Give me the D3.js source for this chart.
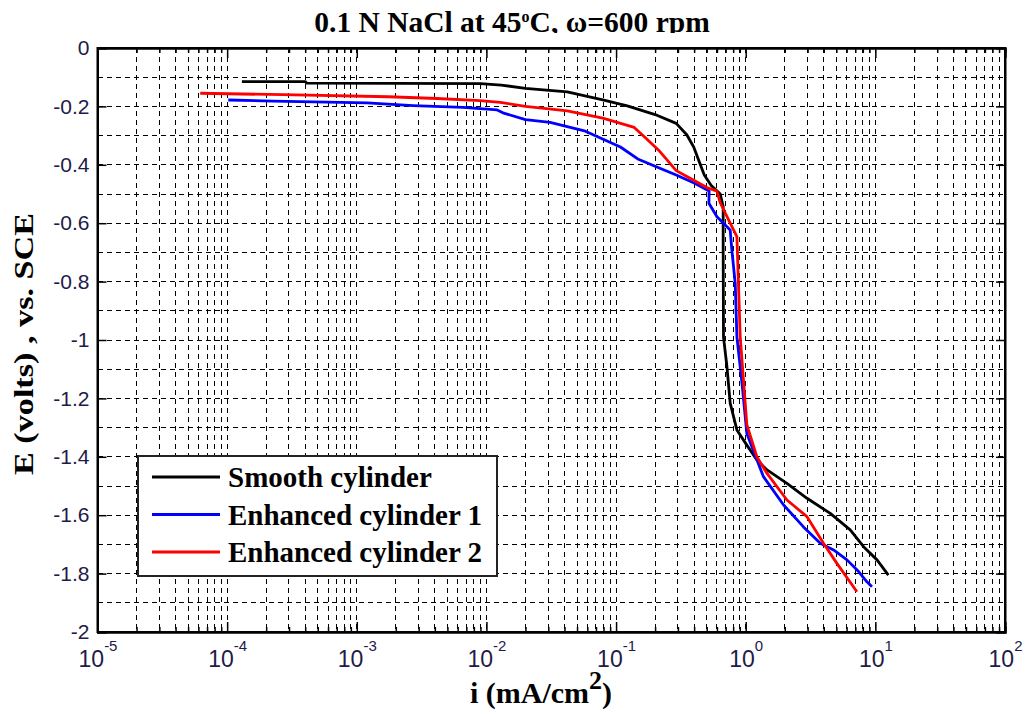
<!DOCTYPE html>
<meta charset="utf-8">
<style>
body { margin: 0; background: #fff; }
svg { display: block; }
.grid line { stroke: #000; stroke-width: 1; stroke-dasharray: 5,4; shape-rendering: crispEdges; }
.axis path, .axis line { stroke: #000; }
.axis path { stroke-width: 2; }
.axis line { stroke-width: 1.5; }
.ticklab { font-family: 'Liberation Sans', Arial, sans-serif; fill: #221a48; }
.serif { font-family: 'Liberation Serif', 'Times New Roman', serif; font-weight: bold; fill: #000; }
.curve { fill: none; stroke-width: 2.8; stroke-linejoin: round; }
</style>
<svg width="1026" height="714"></svg>
<script src="https://d3js.org/d3.v7.min.js"></script>
<script>
// ---- data ----
var smoothI = [1.3e-4, 4.0e-4, 4.1e-4, 0.009, 0.013, 0.020, 0.042, 0.079, 0.122, 0.200, 0.291, 0.351, 0.397, 0.436,
  0.479, 0.542, 0.636, 0.670, 0.670, 0.674, 0.716, 0.759, 0.855, 1.02, 1.22, 1.46, 2.08, 2.97, 4.49, 6.40, 8.11, 10.3, 12.6];
var smoothE = [-0.115, -0.115, -0.120, -0.122, -0.127, -0.138, -0.150, -0.178, -0.198, -0.228, -0.258, -0.297, -0.339, -0.387,
  -0.435, -0.471, -0.500, -0.543, -0.690, -0.990, -1.090, -1.216, -1.308, -1.360, -1.411, -1.445, -1.491, -1.542, -1.594, -1.650, -1.708, -1.753, -1.805];

var enh1I = [1.02e-4, 2.26e-4, 1.2e-3, 2.72e-3, 6.6e-3, 0.0121, 0.0134, 0.020, 0.031, 0.058, 0.108, 0.147, 0.200, 0.291,
  0.404, 0.522, 0.520, 0.600, 0.759, 0.782, 0.830, 0.855, 0.936, 1.02, 1.18, 1.37, 1.96, 2.79, 3.76, 4.76, 6.04, 7.42, 8.61, 9.41];
var enh1E = [-0.178, -0.182, -0.188, -0.197, -0.203, -0.212, -0.222, -0.245, -0.255, -0.285, -0.339, -0.380, -0.405, -0.435,
  -0.463, -0.490, -0.532, -0.578, -0.623, -0.692, -0.806, -0.989, -1.148, -1.320, -1.394, -1.468, -1.565, -1.640, -1.696, -1.719, -1.753, -1.793, -1.828, -1.845];

var enh2I = [6.2e-5, 2.7e-4, 1.75e-3, 4.17e-3, 8.9e-3, 0.0128, 0.020, 0.042, 0.079, 0.138, 0.166, 0.213, 0.291, 0.352,
  0.502, 0.600, 0.636, 0.759, 0.855, 0.879, 0.907, 0.962, 1.02, 1.22, 1.46, 2.08, 2.97, 3.98, 5.05, 7.21];
var enh2E = [-0.155, -0.160, -0.167, -0.173, -0.180, -0.186, -0.200, -0.215, -0.240, -0.272, -0.305, -0.350, -0.420, -0.440,
  -0.478, -0.490, -0.530, -0.600, -0.646, -0.806, -0.989, -1.140, -1.290, -1.400, -1.457, -1.548, -1.605, -1.696, -1.765, -1.862];

var seriesNames = ["Smooth cylinder", "Enhanced cylinder 1", "Enhanced cylinder 2"];
var seriesColors = ["#000000", "#0000ff", "#ff0000"];
var decades = [-5, -4, -3, -2, -1, 0, 1, 2];
var yTicks = [0, -0.2, -0.4, -0.6, -0.8, -1, -1.2, -1.4, -1.6, -1.8, -2];

var svg = d3.select("svg");
var pLeft = 97.5, pRight = 1005, pTop = 48, pBottom = 632;

var x = d3.scaleLog().domain([1e-5, 1e2]).range([pLeft, pRight]);
var y = d3.scaleLinear().domain([-2, 0]).range([pBottom, pTop]);

// minor positions for the log axis
var minorX = [];
decades.slice(0, -1).forEach(function(e) {
  for (var m = 2; m <= 9; m++) minorX.push(m * Math.pow(10, e));
});
var gridX = decades.map(function(e) { return Math.pow(10, e); }).slice(1, -1).concat(minorX);
var gridY = d3.range(1, 20).map(function(k) { return -k / 10; });

// grid
var grid = svg.append("g").attr("class", "grid");
grid.selectAll(".gx").data(gridX).enter().append("line")
  .attr("x1", function(d) { return x(d); }).attr("x2", function(d) { return x(d); })
  .attr("y1", pTop).attr("y2", pBottom);
grid.selectAll(".gy").data(gridY).enter().append("line")
  .attr("x1", pLeft).attr("x2", pRight)
  .attr("y1", function(d) { return y(d); }).attr("y2", function(d) { return y(d); });

// curves
var line = d3.line().x(function(d) { return x(d[0]); }).y(function(d) { return y(d[1]); });
var series = [d3.zip(smoothI, smoothE), d3.zip(enh1I, enh1E), d3.zip(enh2I, enh2E)];
svg.append("g").selectAll("path").data(series).enter().append("path")
  .attr("class", "curve")
  .attr("stroke", function(d, i) { return seriesColors[i]; })
  .attr("d", line);

// axes (ticks inward)
var decadeVals = decades.map(function(e) { return Math.pow(10, e); });
svg.append("g").attr("class", "axis").attr("transform", "translate(0," + pBottom + ")")
  .call(d3.axisBottom(x).tickValues(minorX).tickSize(-5).tickFormat(""));
svg.append("g").attr("class", "axis").attr("transform", "translate(0," + pTop + ")")
  .call(d3.axisTop(x).tickValues(minorX).tickSize(-5).tickFormat(""));
svg.append("g").attr("class", "axis").attr("transform", "translate(0," + pTop + ")")
  .call(d3.axisTop(x).tickValues(decadeVals).tickSize(-10).tickFormat(""));
var xAx = svg.append("g").attr("class", "axis").attr("transform", "translate(0," + pBottom + ")")
  .call(d3.axisBottom(x).tickValues(decadeVals).tickSize(-10).tickFormat(""));
svg.append("g").attr("class", "axis").attr("transform", "translate(" + pRight + ",0)")
  .call(d3.axisRight(y).tickValues(yTicks).tickSize(-9).tickFormat(""));
var yAx = svg.append("g").attr("class", "axis").attr("transform", "translate(" + pLeft + ",0)")
  .call(d3.axisLeft(y).tickValues(yTicks).tickSize(-9).tickPadding(8)
    .tickFormat(function(d) { return String(+d.toFixed(1)); }));
yAx.selectAll("text").attr("class", "ticklab").style("font-size", "21px").attr("font-family", null);

// x tick labels as 10^n
xAx.selectAll(".tick").each(function(d) {
  var t = d3.select(this).append("text").attr("class", "ticklab")
    .attr("text-anchor", "middle").attr("y", 35).style("font-size", "23px");
  t.append("tspan").text("10");
  t.append("tspan").attr("dy", -16).style("font-size", "15px").text(Math.round(Math.log10(d)));
});

// frame
svg.append("rect").attr("x", pLeft).attr("y", pTop).attr("width", pRight - pLeft).attr("height", pBottom - pTop)
  .attr("fill", "none").attr("stroke", "#000").attr("stroke-width", 2);

// legend
var lg = svg.append("g");
lg.append("rect").attr("x", 138).attr("y", 456).attr("width", 359).attr("height", 120)
  .attr("fill", "#fff").attr("stroke", "#222").attr("stroke-width", 2);
var rows = lg.selectAll(".row").data(seriesNames).enter().append("g")
  .attr("transform", function(d, i) { return "translate(0," + (477 + i * 37.5) + ")"; });
rows.append("line").attr("x1", 152).attr("x2", 220)
  .attr("stroke", function(d, i) { return seriesColors[i]; }).attr("stroke-width", 2.8);
rows.append("text").attr("class", "serif").attr("x", 228).attr("y", 10)
  .style("font-size", "29px").text(function(d) { return d; });

// title (bottom of it is cut off in the original)
svg.append("clipPath").attr("id", "tclip").append("rect")
  .attr("x", 0).attr("y", 0).attr("width", 1026).attr("height", 33);
var title = svg.append("text").attr("class", "serif").attr("clip-path", "url(#tclip)")
  .attr("x", 512).attr("y", 32).attr("text-anchor", "middle").style("font-size", "29.5px");
title.append("tspan").text("0.1 N NaCl at 45");
title.append("tspan").attr("dy", -10).style("font-size", "16px").text("o");
title.append("tspan").attr("dy", 10).text("C, \u03c9=600 rpm");

// axis labels
var xl = svg.append("text").attr("class", "serif").attr("x", 541).attr("y", 703)
  .attr("text-anchor", "middle").style("font-size", "30px");
xl.append("tspan").text("i (mA/cm");
xl.append("tspan").attr("dy", -14).style("font-size", "26px").text("2");
xl.append("tspan").attr("dy", 14).text(")");

svg.append("text").attr("class", "serif")
  .attr("transform", "translate(33,344) rotate(-90)")
  .attr("text-anchor", "middle").style("font-size", "28px")
  .attr("textLength", 262).attr("lengthAdjust", "spacingAndGlyphs")
  .text("E (volts) , vs. SCE");
</script>
